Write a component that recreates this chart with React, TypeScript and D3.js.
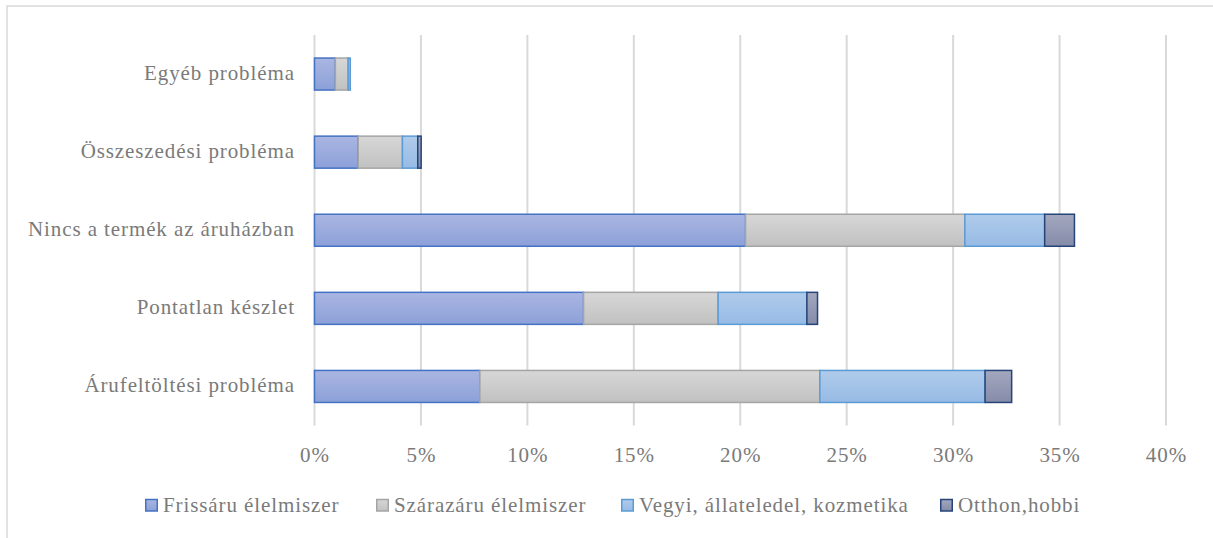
import React from "react";
import * as d3 from "d3";

const categories = [
  "Egyéb probléma",
  "Összeszedési probléma",
  "Nincs a termék az áruházban",
  "Pontatlan készlet",
  "Árufeltöltési probléma",
];
const seriesNames = [
  "Frissáru élelmiszer",
  "Szárazáru élelmiszer",
  "Vegyi, állateledel, kozmetika",
  "Otthon,hobbi",
];
const frissaru = [0.98, 2.05, 20.25, 12.64, 7.77];
const szarazaru = [0.6, 2.08, 10.3, 6.32, 15.97];
const vegyi = [0.1, 0.72, 3.75, 4.17, 7.76];
const otthon = [0.0, 0.16, 1.4, 0.5, 1.25];
const xTicks = [0, 5, 10, 15, 20, 25, 30, 35, 40];

const fills = [
  ["#aab6e2", "#8ca0d8"],
  ["#d7d7d7", "#c1c1c1"],
  ["#b0cbeb", "#97bbe5"],
  ["#a3a8bf", "#858ca9"],
];
const strokes = ["#4472c4", "#a5a5a5", "#5b9bd5", "#264478"];

export default function App() {
  const W = 1213;
  const H = 538;
  const left = 314.5;
  const right = 1166;
  const top = 35;
  const bottom = 425.5;

  const rows = categories.map((c, i) => ({
    cat: c,
    s0: frissaru[i],
    s1: szarazaru[i],
    s2: vegyi[i],
    s3: otthon[i],
  }));
  const stack = d3.stack<any>().keys(["s0", "s1", "s2", "s3"]);
  const stacked = stack(rows);

  const x = d3.scaleLinear().domain([0, 40]).range([left, right]);
  const y = d3
    .scaleBand()
    .domain(categories)
    .range([top, bottom])
    .paddingInner(0.59)
    .paddingOuter(0.295);

  const textColor = "#7a7a7a";
  const ls = 0.9;
  const textStyle = {
    fontFamily: "Liberation Serif, Times New Roman, serif",
    fontSize: 21,
    letterSpacing: ls,
  };

  const legendX = [145, 376, 621, 940];

  return (
    <svg
      width={W}
      height={H}
      style={{ position: "absolute", left: 0, top: 0, background: "#fff" }}
    >
      <defs>
        {fills.map((f, i) => (
          <linearGradient key={i} id={`g${i}`} x1="0" y1="0" x2="0" y2="1">
            <stop offset="0%" stopColor={f[0]} />
            <stop offset="100%" stopColor={f[1]} />
          </linearGradient>
        ))}
      </defs>
      <rect x={7} y={6} width={1300} height={600} fill="#fff" stroke="#d9d9d9" strokeWidth={1.5} />
      {xTicks.map((t) => (
        <line
          key={t}
          x1={x(t)}
          x2={x(t)}
          y1={top}
          y2={bottom}
          stroke="#d9d9d9"
          strokeWidth={2}
        />
      ))}
      {xTicks.map((t) => (
        <text
          key={"t" + t}
          x={x(t) + ls / 2}
          y={461.5}
          textAnchor="middle"
          style={textStyle}
          fill={textColor}
        >
          {t}%
        </text>
      ))}
      {categories.map((c) => (
        <text
          key={c}
          x={294 + ls}
          y={(y(c) as number) + y.bandwidth() / 2 + 6}
          textAnchor="end"
          style={textStyle}
          fill={textColor}
        >
          {c}
        </text>
      ))}
      {stacked.map((s, si) =>
        s.map((d, i) => {
          const w = x(d[1]) - x(d[0]);
          if (w <= 0) return null;
          return (
            <rect
              key={si + "-" + i}
              x={x(d[0])}
              y={y(categories[i]) as number}
              width={w}
              height={y.bandwidth()}
              fill={`url(#g${si})`}
              stroke={strokes[si]}
              strokeWidth={1.5}
            />
          );
        })
      )}
      {seriesNames.map((n, i) => (
        <g key={n}>
          <rect
            x={legendX[i] + 0.75}
            y={499.5}
            width={11.5}
            height={11.5}
            fill={`url(#g${i})`}
            stroke={strokes[i]}
            strokeWidth={1.5}
          />
          <text x={legendX[i] + 18} y={512} style={textStyle} fill={textColor}>
            {n}
          </text>
        </g>
      ))}
    </svg>
  );
}
